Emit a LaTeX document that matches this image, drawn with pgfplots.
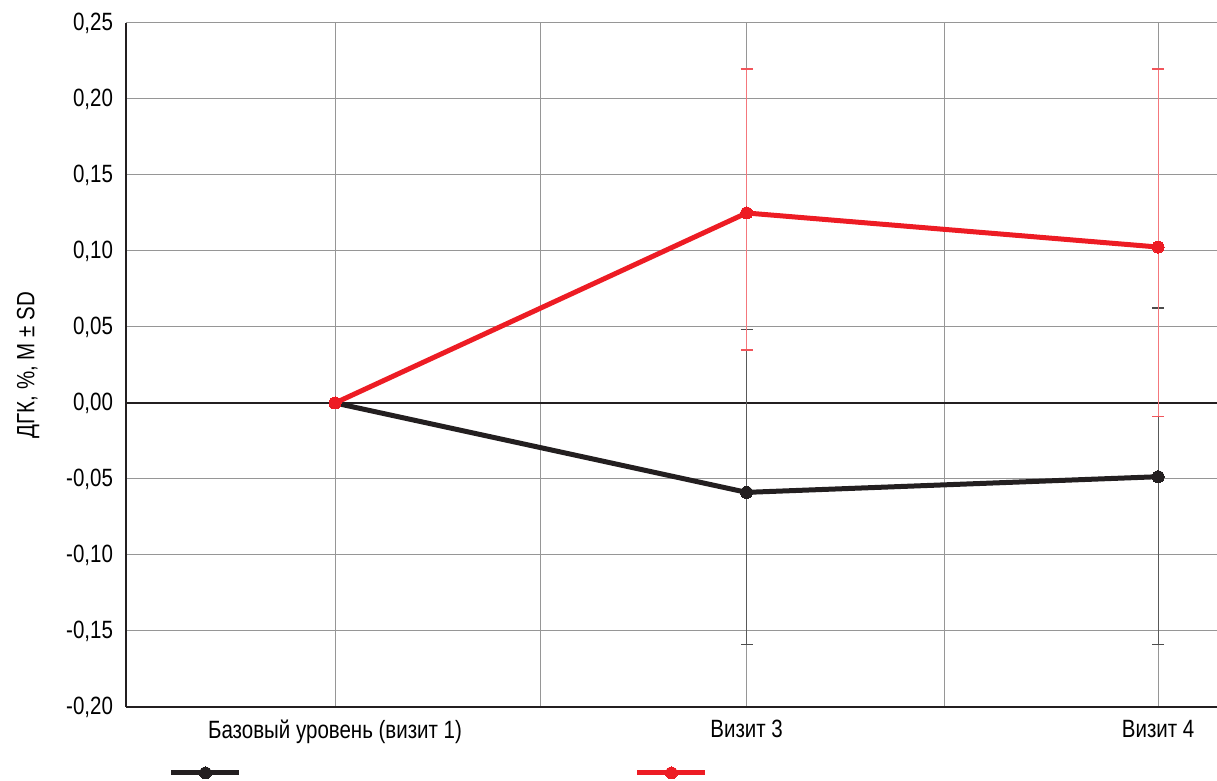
\documentclass[border=0pt]{standalone}
\usepackage{fontspec}
\setmainfont{Liberation Sans}[FakeStretch=0.82]
\usepackage{pgfplots}
\pgfplotsset{compat=1.18}
\definecolor{cred}{RGB}{237,28,36}
\definecolor{cblk}{RGB}{35,31,32}
\definecolor{gridc}{RGB}{150,150,150}
\begin{document}
\begin{tikzpicture}[font=\fontsize{12.5}{15}\selectfont]
\begin{axis}[
  scale only axis,
  width=545.5pt, height=342pt,
  xmin=0.492, xmax=3.143,
  ymin=-0.2, ymax=0.25,
  axis lines*=left,
  axis line style={cblk, line width=0.7pt},
  xtick={1,2,3},
  xticklabels={Базовый уровень (визит 1), Визит 3, Визит 4},
  minor xtick={1.498,2.48},
  ytick={-0.2,-0.15,...,0.26},
  xmajorgrids, xminorgrids, ymajorgrids,
  grid style={gridc, line width=0.5pt},
  minor grid style={gridc, line width=0.5pt},
  major tick length=0pt, minor tick length=0pt,
  /pgf/number format/use comma,
  /pgf/number format/fixed,
  /pgf/number format/fixed zerofill,
  /pgf/number format/precision=2,
  /pgf/number format/assume math mode=true,
  yticklabel style={xshift=-3pt},
  xticklabel style={yshift=-3pt},
  ylabel={ДГК, \%, M ± SD},
  ylabel style={at={(axis description cs:-0.0898,0.5)}, anchor=center},
  clip=false,
  legend style={draw=none, fill=none, inner sep=0pt, outer sep=0pt,
    at={(axis description cs:0.0394,-0.0965)}, anchor=west,
    legend columns=2,
    /tikz/every even column/.append style={column sep=192.5pt}},
  legend image code/.code={\draw[#1, mark repeat=2, mark phase=2] plot coordinates {(0pt,0pt) (17pt,0pt) (34pt,0pt)};},
]
\coordinate (bl) at (rel axis cs:0,0);
\coordinate (tr) at (rel axis cs:1,1);
\addplot[cblk, line width=0.9pt, forget plot] coordinates {(0.492,0) (3.143,0)};
% black series
\addplot[cblk, line width=2.5pt, mark=*, mark size=3pt, mark options={solid, line width=0pt, fill=cblk},
  error bars/.cd, y dir=both, y explicit,
  error bar style={black!65, line width=0.6pt, mark size=3pt},
  error mark options={rotate=90, black!70, line width=0.6pt, mark size=3pt}]
  coordinates {
    (1,0)
    (2,-0.0588) += (0,0.1073) -= (0,0.1002)
    (3,-0.0485) += (0,0.1110) -= (0,0.1105)
  };
\addlegendentry{}
% red series
\addplot[cred, line width=2.5pt, mark=*, mark size=3pt, mark options={solid, line width=0pt, fill=cred},
  error bars/.cd, y dir=both, y explicit,
  error bar style={cred!60, line width=0.6pt, mark size=3pt},
  error mark options={rotate=90, cred!75, line width=0.6pt, mark size=3pt}]
  coordinates {
    (1,0)
    (2,0.1250) += (0,0.0947) -= (0,0.0901)
    (3,0.1026) += (0,0.1171) -= (0,0.1116)
  };
\addlegendentry{}
\end{axis}
\pgfresetboundingbox
\path ([shift={(-63pt,-37pt)}]bl) rectangle ([shift={(0pt,11.5pt)}]tr);
\end{tikzpicture}
\end{document}
